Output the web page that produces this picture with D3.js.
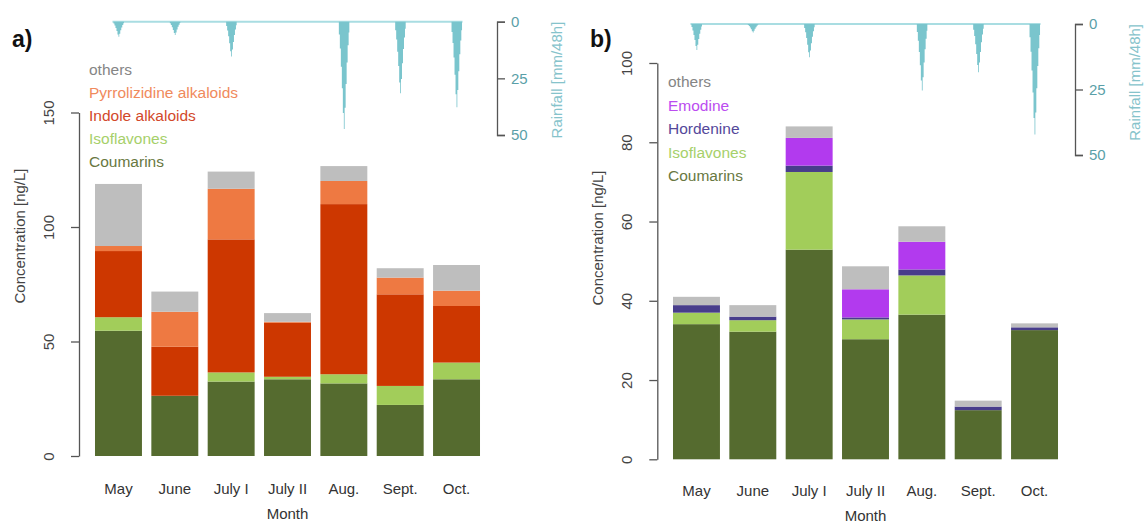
<!DOCTYPE html>
<html>
<head>
<meta charset="utf-8">
<script src="https://cdn.jsdelivr.net/npm/d3@7"></script>
<style>
  body { margin: 0; background: #fff; }
  svg text { font-family: "Liberation Sans", Arial, sans-serif; }
</style>
</head>
<body>
<div id="chart"></div>
<script>
const months = ["May", "June", "July I", "July II", "Aug.", "Sept.", "Oct."];

// panel a) concentrations [ng/L]
const coumarinsA     = [54.7, 26.3, 32.5, 33.5, 31.7, 22.3, 33.5];
const isoflavonesA   = [5.9, 0, 4.0, 1.1, 4.0, 8.3, 7.3];
const indoleA        = [28.9, 21.4, 58.1, 23.6, 74.3, 40.0, 24.7];
const pyrrolizidineA = [2.2, 15.3, 22.1, 0.4, 10.1, 7.3, 6.7];
const othersA        = [27.1, 8.8, 7.5, 3.8, 6.5, 4.1, 11.2];
const rainA          = [6.6, 5.9, 15.4, 0, 47.4, 31.6, 37.7];

// panel b)
const coumarinsB   = [34.1, 32.2, 52.9, 30.3, 36.5, 12.4, 32.6];
const isoflavonesB = [2.9, 2.9, 19.6, 5.0, 9.9, 0, 0];
const hordenineB   = [1.9, 0.9, 1.6, 0.5, 1.5, 0.9, 0.7];
const emodineB     = [0, 0, 7.0, 7.1, 7.0, 0, 0];
const othersB      = [2.1, 2.9, 2.9, 5.8, 3.9, 1.5, 1.0];
const rainB        = [9.9, 3.2, 12.7, 0, 25.4, 18.4, 42.2];

const concTicksA = [0, 50, 100, 150];
const concTicksB = [0, 20, 40, 60, 80, 100];
const rainTicks = [0, 25, 50];

const width = 1145, height = 525;
const svg = d3.select("#chart").append("svg")
  .attr("width", width).attr("height", height);

const rainColor = "#7ac5cd";

function panel(opt) {
  const g = svg.append("g");
  const x = d3.scaleBand().domain(months)
    .range(opt.xRange).paddingInner(1 / 6).paddingOuter(1 / 12);
  const y = d3.scaleLinear().domain(opt.yDomain).range(opt.yRange);

  // stacked bars
  const rows = months.map((m, i) => {
    const r = { month: m };
    opt.series.forEach(s => r[s.name] = s.values[i]);
    return r;
  });
  const stack = d3.stack().keys(opt.series.map(s => s.name))(rows);
  stack.forEach((layer, li) => {
    g.append("g").selectAll("rect")
      .data(layer)
      .join("rect")
      .attr("x", d => x(d.data.month))
      .attr("width", x.bandwidth())
      .attr("y", d => y(d[1]))
      .attr("height", d => y(d[0]) - y(d[1]))
      .attr("fill", opt.series[li].color);
  });

  // concentration axis
  const ax = g.append("g")
    .attr("transform", "translate(" + opt.axisX + ",0)")
    .call(d3.axisLeft(y).tickValues(opt.ticks).tickSize(8).tickSizeOuter(0));
  ax.select(".domain").attr("stroke", "#555").attr("stroke-width", 1.3);
  ax.selectAll(".tick line").attr("stroke", "#555").attr("stroke-width", 1.3);
  ax.selectAll(".tick text")
    .attr("transform", "rotate(-90)")
    .attr("x", 0).attr("y", -25).attr("dy", null)
    .attr("text-anchor", "middle")
    .attr("font-size", 15).attr("fill", "#444");

  g.append("text")
    .attr("transform", "translate(" + opt.yTitleX + "," + opt.yTitleY + ") rotate(-90)")
    .attr("text-anchor", "middle").attr("font-size", 15).attr("fill", "#444")
    .text("Concentration [ng/L]");

  // month labels
  g.append("g").selectAll("text")
    .data(months).join("text")
    .attr("x", d => x(d) + x.bandwidth() / 2)
    .attr("y", opt.monthY)
    .attr("text-anchor", "middle").attr("font-size", 15).attr("fill", "#333")
    .text(d => d);
  g.append("text")
    .attr("x", (opt.xRange[0] + opt.xRange[1]) / 2)
    .attr("y", opt.monthY + 25)
    .attr("text-anchor", "middle").attr("font-size", 15).attr("fill", "#333")
    .text("Month");

  // legend (text only, top entry = top of stack)
  const legendItems = opt.series.slice().reverse();
  g.append("g").selectAll("text")
    .data(legendItems).join("text")
    .attr("x", opt.legendX)
    .attr("y", (d, i) => opt.legendY + i * opt.legendStep)
    .attr("font-size", 15.5)
    .attr("fill", d => d.textColor)
    .text(d => d.label);

  // rainfall
  const ry = d3.scaleLinear().domain([0, 50]).range(opt.rainRange);
  const cx = m => x(m) + x.bandwidth() / 2;
  g.append("line")
    .attr("x1", cx(months[0]) - 6).attr("x2", cx(months[months.length - 1]) + 6)
    .attr("y1", ry(0)).attr("y2", ry(0))
    .attr("stroke", "#a9dde2").attr("stroke-width", 2);

  const profile = [[-5.5, 0], [-5, 0.12], [-4, 0.25], [-3, 0.42], [-2, 0.62], [-1, 0.85], [0, 1],
                   [0.8, 0.8], [1.8, 0.58], [2.8, 0.38], [3.8, 0.22], [4.8, 0.1], [5.5, 0]];
  const area = d3.area()
    .x(p => p.x).y0(ry(0)).y1(p => p.y)
    .curve(d3.curveStepAfter);
  g.append("g").selectAll("path")
    .data(months.map((m, i) => ({ m: m, v: opt.rain[i] })).filter(d => d.v > 0))
    .join("path")
    .attr("fill", rainColor)
    .attr("d", d => area(profile.map(p => ({
      x: cx(d.m) + p[0],
      y: ry(0) + (ry(d.v) - ry(0)) * p[1]
    }))));

  const rax = g.append("g")
    .attr("transform", "translate(" + opt.rainAxisX + ",0)")
    .call(d3.axisRight(ry).tickValues(rainTicks).tickSize(8).tickSizeOuter(8));
  rax.select(".domain").attr("stroke", "#555").attr("stroke-width", 1.3);
  rax.selectAll(".tick line").attr("stroke", "#555").attr("stroke-width", 1.3);
  rax.selectAll(".tick text").attr("font-size", 15).attr("fill", "#5a9fa8").attr("x", 14);
  g.append("text")
    .attr("transform", "translate(" + (opt.rainAxisX + 65) + "," + ry(0) + ") rotate(-90)")
    .attr("text-anchor", "end").attr("font-size", 15).attr("fill", "#86c3cb")
    .text("Rainfall [mm/48h]");

  // panel letter
  g.append("text")
    .attr("x", opt.letterX).attr("y", 47)
    .attr("font-size", 23).attr("font-weight", "bold").attr("fill", "#111")
    .text(opt.letter);
}

panel({
  letter: "a)", letterX: 12,
  xRange: [90.3, 484.7], yDomain: [0, 150], yRange: [456, 112.5],
  ticks: concTicksA, axisX: 79, yTitleX: 25, yTitleY: 236, monthY: 494,
  legendX: 89, legendY: 75, legendStep: 23,
  rain: rainA, rainRange: [21.7, 135], rainAxisX: 497,
  series: [
    { name: "cou", label: "Coumarins", values: coumarinsA, color: "#556b2f", textColor: "#68783f" },
    { name: "iso", label: "Isoflavones", values: isoflavonesA, color: "#a2cd5a", textColor: "#a6d06a" },
    { name: "ind", label: "Indole alkaloids", values: indoleA, color: "#cd3700", textColor: "#d2482a" },
    { name: "pyr", label: "Pyrrolizidine alkaloids", values: pyrrolizidineA, color: "#ee7942", textColor: "#f08a5c" },
    { name: "oth", label: "others", values: othersA, color: "#bebebe", textColor: "#858585" }
  ]
});

panel({
  letter: "b)", letterX: 590,
  xRange: [668.3, 1062.7], yDomain: [0, 100], yRange: [459.3, 63],
  ticks: concTicksB, axisX: 657.3, yTitleX: 603, yTitleY: 238, monthY: 496,
  legendX: 668, legendY: 87, legendStep: 23.5,
  rain: rainB, rainRange: [24, 155], rainAxisX: 1075,
  series: [
    { name: "cou", label: "Coumarins", values: coumarinsB, color: "#556b2f", textColor: "#68783f" },
    { name: "iso", label: "Isoflavones", values: isoflavonesB, color: "#a2cd5a", textColor: "#a6d06a" },
    { name: "hor", label: "Hordenine", values: hordenineB, color: "#483d8b", textColor: "#54489a" },
    { name: "emo", label: "Emodine", values: emodineB, color: "#b23aee", textColor: "#bb4cf0" },
    { name: "oth", label: "others", values: othersB, color: "#bebebe", textColor: "#858585" }
  ]
});
</script>
</body>
</html>
